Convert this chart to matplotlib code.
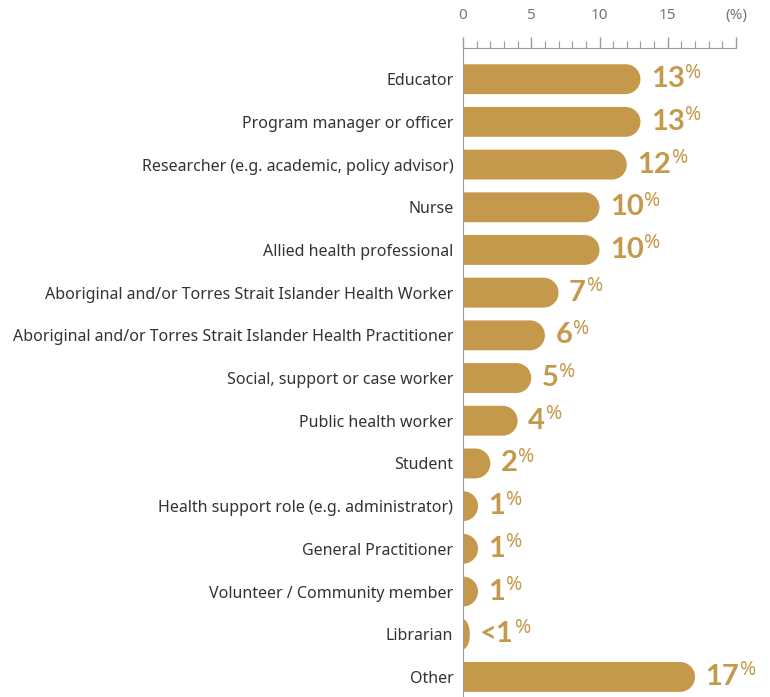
import numpy as np
import matplotlib
matplotlib.use("Agg")
import matplotlib.pyplot as plt
from matplotlib.patches import Polygon

categories = [
    "Educator",
    "Program manager or officer",
    "Researcher (e.g. academic, policy advisor)",
    "Nurse",
    "Allied health professional",
    "Aboriginal and/or Torres Strait Islander Health Worker",
    "Aboriginal and/or Torres Strait Islander Health Practitioner",
    "Social, support or case worker",
    "Public health worker",
    "Student",
    "Health support role (e.g. administrator)",
    "General Practitioner",
    "Volunteer / Community member",
    "Librarian",
    "Other",
]
values = [13, 13, 12, 10, 10, 7, 6, 5, 4, 2, 1.1, 1.1, 1.1, 0.5, 17]
value_labels = ["13", "13", "12", "10", "10", "7", "6", "5", "4", "2", "1", "1", "1", "<1", "17"]

GOLD = "#C4994B"
GREY = "#999999"

plt.rcParams['font.family'] = ['Noto Sans', 'DejaVu Sans']

W, H = 770, 697
fig = plt.figure(figsize=(W / 100, H / 100), dpi=100)
ax_left, ax_right, ax_top = 463, 736, 48
ax = fig.add_axes([ax_left / W, 0, (ax_right - ax_left) / W, 1 - ax_top / H])

xmax = 20
ylim = (len(categories) - 1 + 0.47, -0.73)
ax.set_xlim(0, xmax)
ax.set_ylim(*ylim)

px_x = (ax_right - ax_left) / xmax
bar_h = 0.70
r_px = 15


def rounded_bar(v, y):
    # square left end, rounded right end
    rx = min(r_px / px_x, v)
    ry = bar_h / 2
    cx = v - rx
    t = np.linspace(-np.pi / 2, np.pi / 2, 40)
    pts = [(0, y + ry)] + [(cx + rx * np.cos(a), y + ry * np.sin(a)) for a in t[::-1]] + [(0, y - ry)]
    return Polygon(pts, closed=True, facecolor=GOLD, edgecolor="none")


for i, (v, lab) in enumerate(zip(values, value_labels)):
    ax.add_patch(rounded_bar(v, i))
    num = ax.annotate(lab, xy=(v, i), xytext=(7.5, 0), textcoords="offset points",
                      ha="left", va="center", fontsize=21, fontweight="bold",
                      family=["Lato", "DejaVu Sans"],
                      color=GOLD, annotation_clip=False)
    ax.annotate("%", xy=(1, 1), xycoords=num, xytext=(0.5, 2.5), textcoords="offset points",
                ha="left", va="top", fontsize=14, fontweight="semibold", color=GOLD,
                family=["Noto Sans", "DejaVu Sans"], annotation_clip=False)

ax.set_yticks(range(len(categories)))
ax.set_yticklabels(categories, fontsize=11.5, color="#333333")
ax.tick_params(axis="y", length=0, pad=7)

ax.xaxis.set_ticks_position("top")
ax.set_xticks([0, 5, 10, 15, 20])
ax.set_xticklabels(["0", "5", "10", "15", "(%)"], fontsize=11, color="#777777")
ax.set_xticks(np.arange(0, xmax + 1, 1), minor=True)
ax.tick_params(axis="x", which="major", length=8, color=GREY, pad=10, width=1)
ax.tick_params(axis="x", which="minor", length=5, color=GREY, width=0.8)

for s in ["right", "bottom"]:
    ax.spines[s].set_visible(False)
ax.spines["top"].set_color(GREY)
ax.spines["left"].set_color(GREY)

fig.savefig("out.png", dpi=100)
